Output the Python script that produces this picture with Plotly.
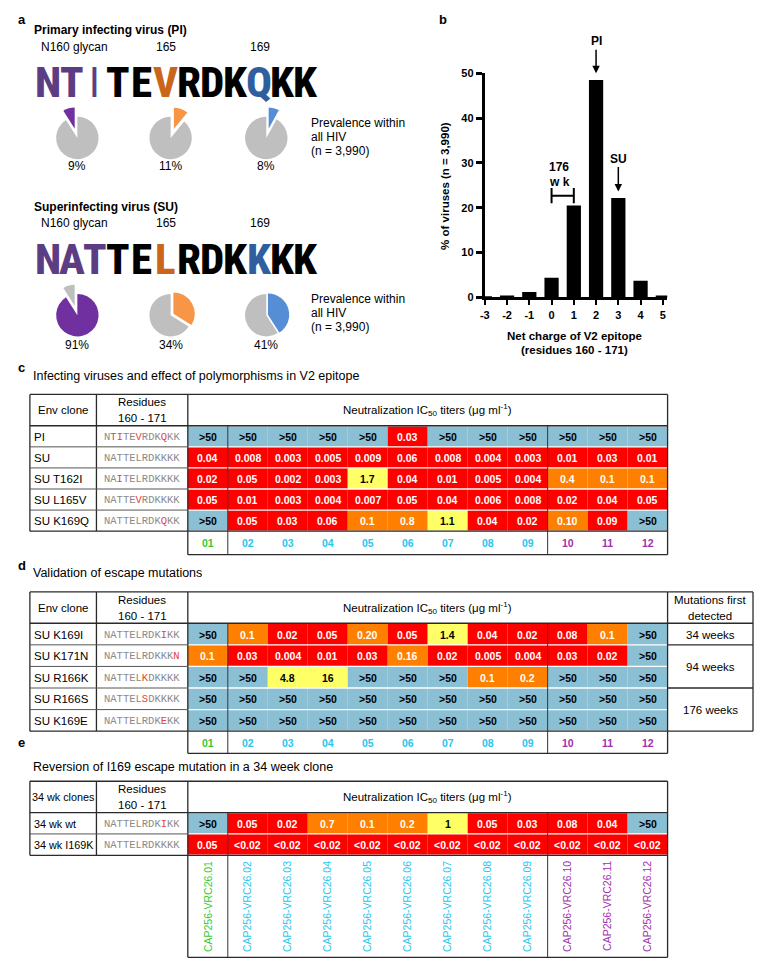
import plotly.graph_objects as go

PAGE_W, PAGE_H = 762, 972
OFF = 8  # default body margin of the html page
W, H = PAGE_W - 2 * OFF, PAGE_H - 2 * OFF
FONT = "Liberation Sans, Arial, sans-serif"
MONO = "Liberation Mono, Courier New, monospace"
LOGOFONT = "Roboto, Liberation Sans, sans-serif"

# ---------------- data ----------------
# panel a
pi_seq = "NTITEVRDKQKK"
su_seq = "NATTELRDKKKK"
pi_letter_groups = ["p", "p", "p", "k", "k", "o", "k", "k", "k", "b", "k", "k"]
su_letter_groups = ["p", "p", "p", "k", "k", "o", "k", "k", "k", "b", "k", "k"]
pie_pct_pi = [9, 11, 8]
pie_pct_su = [91, 34, 41]
pie_labels_pi = ["9%", "11%", "8%"]
pie_labels_su = ["91%", "34%", "41%"]

# panel b
net_charge = [-3, -2, -1, 0, 1, 2, 3, 4, 5]
pct_viruses = [0.1, 0.4, 1.2, 4.4, 20.5, 48.5, 22.2, 3.7, 0.4]

# panel c
clones_c = ["PI", "SU", "SU T162I", "SU L165V", "SU K169Q"]
seqs_c = ["NTITEVRDKQKK", "NATTELRDKKKK", "NAITELRDKKKK", "NATTEVRDKKKK", "NATTELRDKQKK"]
muts_c = [[1, 2, 5, 9], [], [2], [5], [9]]
ic50_c = [
    [">50", ">50", ">50", ">50", ">50", "0.03", ">50", ">50", ">50", ">50", ">50", ">50"],
    ["0.04", "0.008", "0.003", "0.005", "0.009", "0.06", "0.008", "0.004", "0.003", "0.01", "0.03", "0.01"],
    ["0.02", "0.05", "0.002", "0.003", "1.7", "0.04", "0.01", "0.005", "0.004", "0.4", "0.1", "0.1"],
    ["0.05", "0.01", "0.003", "0.004", "0.007", "0.05", "0.04", "0.006", "0.008", "0.02", "0.04", "0.05"],
    [">50", "0.05", "0.03", "0.06", "0.1", "0.8", "1.1", "0.04", "0.02", "0.10", "0.09", ">50"],
]
# panel d
clones_d = ["SU K169I", "SU K171N", "SU R166K", "SU R166S", "SU K169E"]
seqs_d = ["NATTELRDKIKK", "NATTELRDKKKN", "NATTELKDKKKK", "NATTELSDKKKK", "NATTELRDKEKK"]
muts_d = [[9], [11], [6], [6], [9]]
ic50_d = [
    [">50", "0.1", "0.02", "0.05", "0.20", "0.05", "1.4", "0.04", "0.02", "0.08", "0.1", ">50"],
    ["0.1", "0.03", "0.004", "0.01", "0.03", "0.16", "0.02", "0.005", "0.004", "0.03", "0.02", ">50"],
    [">50", ">50", "4.8", "16", ">50", ">50", ">50", "0.1", "0.2", ">50", ">50", ">50"],
    [">50"] * 12,
    [">50"] * 12,
]
first_detected = [("34 weeks", 0, 1), ("94 weeks", 1, 3), ("176 weeks", 3, 5)]
# panel e
clones_e = ["34 wk wt", "34 wk I169K"]
seqs_e = ["NATTELRDKIKK", "NATTELRDKKKK"]
muts_e = [[9], []]
ic50_e = [
    [">50", "0.05", "0.02", "0.7", "0.1", "0.2", "1", "0.05", "0.03", "0.08", "0.04", ">50"],
    ["0.05"] + ["<0.02"] * 11,
]
clone_ids = ["01", "02", "03", "04", "05", "06", "07", "08", "09", "10", "11", "12"]
clone_names = ["CAP256-VRC26." + c for c in clone_ids]

# ---------------- styles ----------------
PURPLE_L, ORANGE_L, BLUE_L = "#5c3d84", "#c9661c", "#2f5f9f"
letter_color = {"p": PURPLE_L, "o": ORANGE_L, "b": BLUE_L, "k": "#000000"}
PIE_P, PIE_O, PIE_B, PIE_G = "#7030a0", "#f79646", "#558ed5", "#bfbfbf"
C_BLUE, C_RED, C_ORANGE, C_YELLOW = "#8bbfd4", "#ff0000", "#ff8000", "#ffff66"
MUT_RED = "#e8403a"
SEQ_GRAY = "#8a8a8a"
DARK = "#2a2a2a"


def id_color(j):
    return "#33cc33" if j == 0 else ("#29c6ee" if j < 9 else "#a030b0")


def cell_color(s):
    if s.startswith(">"):
        return C_BLUE
    if s.startswith("<"):
        return C_RED
    v = float(s)
    if v < 0.1:
        return C_RED
    if v < 1:
        return C_ORANGE
    return C_YELLOW


def px_to_paper_x(x):
    return (x - OFF) / W


def px_to_paper_y(y):
    return 1 - (y - OFF) / H


fig = go.Figure()
shapes = []
ann = []


def text(x, y, s, size=12, color="black", bold=False, xanchor="center", family=FONT, angle=0, weight=None):
    w = weight if weight is not None else ("bold" if bold else "normal")
    ann.append(dict(x=x, y=y, xref="x2", yref="y2", text=s, showarrow=False,
                    xanchor=xanchor, yanchor="middle", textangle=angle,
                    font=dict(family=family, size=size, color=color, weight=w)))


def line(x0, y0, x1, y1, color=DARK, width=1.3):
    shapes.append(dict(type="line", xref="x2", yref="y2", x0=x0, y0=y0, x1=x1, y1=y1,
                       line=dict(color=color, width=width)))


def rect(x0, y0, x1, y1, fill):
    shapes.append(dict(type="rect", xref="x2", yref="y2", x0=x0, y0=y0, x1=x1, y1=y1,
                       fillcolor=fill, line=dict(width=0), layer="below"))


# canvas axes trace
fig.add_trace(go.Scatter(x=[OFF + 1], y=[OFF + 1], xaxis="x2", yaxis="y2", mode="markers",
                         marker=dict(opacity=0), hoverinfo="skip", showlegend=False))

# ---------------- panel labels ----------------
for lab, x, y in [("a", 11, 14), ("b", 435, 14), ("c", 11, 366), ("d", 11, 566), ("e", 11, 746)]:
    text(x, y, lab, size=13, bold=True, xanchor="left")

# ---------------- panel a ----------------
step = 23.6
x_first = 43.3
for seq, groups, yc, ytitle, ylab, title in [
        (pi_seq, pi_letter_groups, 77, 24, 41, "Primary infecting virus (PI)"),
        (su_seq, su_letter_groups, 256, 203, 220, "Superinfecting virus (SU)")]:
    text(27, ytitle, title, size=12, bold=True, xanchor="left")
    text(34, ylab, "N160 glycan", size=12, xanchor="left")
    text(162, ylab, "165", size=12)
    text(257, ylab, "169", size=12)
    for i, ch in enumerate(seq):
        thin = (ch == "I")
        text(x_first + i * step, yc, '<span style="font-stretch:75%%">%s</span>' % ch, size=43,
             color=letter_color[groups[i]], weight=400 if thin else 800, family=LOGOFONT)

pie_cx = [72.8, 166.7, 263.0]
r_pie = 21.5
# slices listed clockwise from 12 o'clock
pi_colors = [[PIE_G, PIE_P], [PIE_O, PIE_G], [PIE_B, PIE_G]]
su_colors = [[PIE_P, PIE_G], [PIE_O, PIE_G], [PIE_B, PIE_G]]
pi_pull = [0.45, 0.45, 0.45]
su_pull = [0.45, 0.15, 0.08]
for pcts, cols, pulls, cy, labels, ylabel, is_pi in [
        (pie_pct_pi, pi_colors, pi_pull, 133.5, pie_labels_pi, 162, True),
        (pie_pct_su, su_colors, su_pull, 313, pie_labels_su, 343, False)]:
    for k in range(3):
        p = pcts[k]
        if k == 0:
            vals = [100 - p, p] if is_pi else [p, 100 - p]
            pull = [0, pulls[k]]
        else:
            vals = [p, 100 - p]
            pull = [pulls[k], 0]
        half = r_pie * (1 + pulls[k])
        cx = pie_cx[k]
        fig.add_trace(go.Pie(values=vals, sort=False, textinfo="none", hoverinfo="skip",
                             direction="clockwise", rotation=0, pull=pull,
                             marker=dict(colors=cols[k], line=dict(width=0)),
                             showlegend=False,
                             domain=dict(x=[px_to_paper_x(cx - half), px_to_paper_x(cx + half)],
                                         y=[px_to_paper_y(cy + half), px_to_paper_y(cy - half)])))
        text(cx, ylabel, labels[k], size=12)
    text(306, cy - 15 if is_pi else cy - 16, "Prevalence within", size=12, xanchor="left")
    text(306, cy - 1 if is_pi else cy - 2, "all HIV", size=12, xanchor="left")
    text(306, cy + 13 if is_pi else cy + 12, "(n = 3,990)", size=12, xanchor="left")

# ---------------- panel b ----------------
xL, unit = 483.0, 22.4
xmin, xmax = -3.0, 5.2
xR = xL + (xmax - xmin) * unit
yB, yT = 295.0, 68.0
fig.add_trace(go.Bar(x=net_charge, y=pct_viruses, width=0.64, marker=dict(color="black", line=dict(width=0)),
                     hoverinfo="skip", showlegend=False, xaxis="x", yaxis="y"))
tickfont = dict(family=FONT, size=11, color="black", weight="bold")
fig.update_layout(
    xaxis=dict(domain=[px_to_paper_x(xL), px_to_paper_x(xR)], range=[xmin, xmax], tickvals=net_charge,
               ticktext=[str(v) for v in net_charge], showline=True, linecolor="black", linewidth=3,
               ticks="outside", ticklen=5, tickwidth=2, tickcolor="black", showgrid=False,
               zeroline=False, tickfont=tickfont, anchor="y", fixedrange=True),
    yaxis=dict(domain=[px_to_paper_y(yB), px_to_paper_y(yT)], range=[0, 50], tickvals=[0, 10, 20, 30, 40, 50],
               showline=True, linecolor="black", linewidth=3, ticks="outside", ticklen=6,
               tickwidth=3, tickcolor="black", showgrid=False, zeroline=False, tickfont=tickfont,
               anchor="x", fixedrange=True),
)
arrow_ann = [
    dict(x=2, y=50, xref="x", yref="y", text="<b>PI</b>", showarrow=True, ax=0, ay=-32,
         arrowhead=2, arrowsize=1, arrowwidth=1.5, arrowcolor="black",
         font=dict(family=FONT, size=12, color="black")),
    dict(x=3, y=23.6, xref="x", yref="y", text="<b>SU</b>", showarrow=True, ax=0, ay=-33,
         arrowhead=2, arrowsize=1, arrowwidth=1.5, arrowcolor="black",
         font=dict(family=FONT, size=12, color="black")),
]
for x0, y0, x1, y1 in [(0, 22.7, 1, 22.7), (0, 21.0, 0, 24.4), (1, 21.0, 1, 24.4)]:
    shapes.append(dict(type="line", xref="x", yref="y", x0=x0, y0=y0, x1=x1, y1=y1,
                       line=dict(color="black", width=2)))
text(558, 163, "176", size=12, bold=True)
text(558, 178, "w k", size=12, bold=True)
text(443, 182, "% of viruses (n = 3,990)", size=11.5, bold=True, angle=-90)
text(573, 334, "Net charge of V2 epitope", size=11.5, bold=True)
text(573, 348, "(residues 160 - 171)", size=11.5, bold=True)

# ---------------- tables ----------------
X0, X1, X2 = 25.0, 92.0, 184.0
CW = (667.0 - X2) / 12
X3 = X2 + 12 * CW
X4 = 753.0
SEP = [X2 + CW, X2 + 9 * CW]


def seq_html(seq, muts):
    out = ""
    for i, ch in enumerate(seq):
        if i in muts:
            out += '<span style="color:%s">%s</span>' % (MUT_RED, ch)
        else:
            out += ch
    return out


def draw_table(top, hdr_bot, row_h, first_hdr, clones, seqs, muts, vals, foot_bot, foot="ids",
               extra=None, lab_size=11.5):
    n = len(clones)
    edges = [hdr_bot + i * row_h for i in range(n + 1)]
    bot = edges[-1]
    for i in range(n):
        for j in range(12):
            s = vals[i][j]
            c = cell_color(s)
            rect(X2 + j * CW, edges[i] + 0.7, X2 + (j + 1) * CW, edges[i + 1] - 0.7, c)
            tc = "white" if c in (C_RED, C_ORANGE) else "black"
            text(X2 + (j + 0.5) * CW, (edges[i] + edges[i + 1]) / 2 + 0.5, s, size=10.5, color=tc, bold=True)
        text(X0 + 2, (edges[i] + edges[i + 1]) / 2 + 0.5, clones[i], size=lab_size, xanchor="left")
        text((X1 + X2) / 2, (edges[i] + edges[i + 1]) / 2 + 0.5, seq_html(seqs[i], muts[i]),
             size=10.5, color=SEQ_GRAY, family=MONO)
    hm = (top + hdr_bot) / 2
    text((X0 + X1) / 2, hm, first_hdr, size=lab_size)
    text((X1 + X2) / 2, hm - 8, "Residues", size=11.5)
    text((X1 + X2) / 2, hm + 8, "160 - 171", size=11.5)
    text((X2 + X3) / 2, hm, "Neutralization IC<sub>50</sub> titers (\u03bcg ml<sup>-1</sup>)", size=11.5)
    line(X0, top, X3, top)
    line(X0, hdr_bot, X3, hdr_bot)
    line(X0, bot, X3, bot)
    for xx in (X0, X1, X2, X3):
        line(xx, top, xx, bot)
    for e in edges[1:-1]:
        line(X0, e, X2, e, color="#555555", width=1)
    for xx in SEP:
        line(xx, hdr_bot, xx, foot_bot, color="#333333", width=1)
    line(X2, bot, X2, foot_bot)
    line(X3, bot, X3, foot_bot)
    line(X2, foot_bot, X3, foot_bot)
    for j in range(12):
        xc = X2 + (j + 0.5) * CW
        if foot == "ids":
            text(xc, (bot + foot_bot) / 2 + 0.5, clone_ids[j], size=10.5, color=id_color(j), bold=True)
        else:
            text(xc, (bot + foot_bot) / 2, clone_names[j], size=10.5, color=id_color(j), angle=-90)
    if extra:
        line(X3, top, X4, top)
        line(X4, top, X4, bot)
        line(X3, hdr_bot, X4, hdr_bot)
        text((X3 + X4) / 2, hm - 8, "Mutations first", size=11.5)
        text((X3 + X4) / 2, hm + 8, "detected", size=11.5)
        for lab, a, b in extra:
            line(X3, edges[b], X4, edges[b])
            text((X3 + X4) / 2, (edges[a] + edges[b]) / 2 + 0.5, lab, size=11.5)


text(26, 375, "Infecting viruses and effect of polymorphisms in V2 epitope", size=12.5, xanchor="left")
draw_table(393.3, 425.0, 21.35, "Env clone", clones_c, seqs_c, muts_c, ic50_c, 555.5)

text(26, 574, "Validation of escape mutations", size=12.5, xanchor="left")
draw_table(593.3, 625.0, 21.86, "Env clone", clones_d, seqs_d, muts_d, ic50_d, 756.7, extra=first_detected)

text(26, 771, "Reversion of I169 escape mutation in a 34 week clone", size=12.5, xanchor="left")
draw_table(785.0, 816.7, 21.65, "34 wk clones", clones_e, seqs_e, muts_e, ic50_e, 963.3, foot="names",
           lab_size=10.8)

fig.update_layout(
    width=W, height=H, margin=dict(l=0, r=0, t=0, b=0),
    paper_bgcolor="white", plot_bgcolor="rgba(0,0,0,0)",
    xaxis2=dict(domain=[0, 1], range=[OFF, OFF + W], visible=False, anchor="y2", fixedrange=True),
    yaxis2=dict(domain=[0, 1], range=[OFF + H, OFF], visible=False, anchor="x2", fixedrange=True),
    shapes=shapes, annotations=ann + arrow_ann, showlegend=False,
    font=dict(family=FONT),
)
fig.write_html("out.html")
